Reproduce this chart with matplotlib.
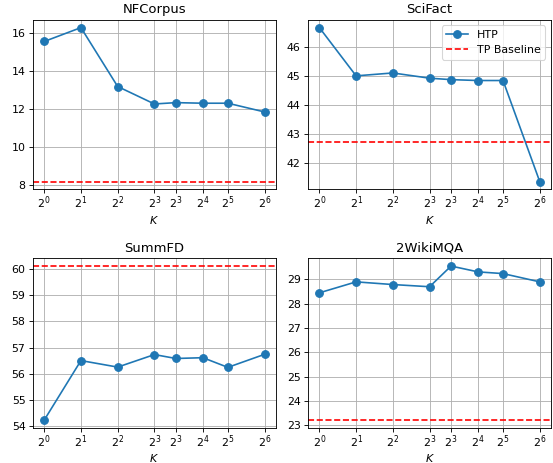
import matplotlib
matplotlib.use("Agg")
import matplotlib.pyplot as plt

k_values = [1, 2, 4, 8, 12, 20, 32, 64]
k_labels = ['$2^{0}$', '$2^{1}$', '$2^{2}$', '$2^{3}$', '$2^{3}$', '$2^{4}$', '$2^{5}$', '$2^{6}$']

titles = ['NFCorpus', 'SciFact', 'SummFD', '2WikiMQA']
nfcorpus = [15.53, 16.26, 13.16, 12.24, 12.31, 12.28, 12.28, 11.82]
scifact = [46.67, 45.01, 45.11, 44.93, 44.88, 44.85, 44.85, 41.37]
summfd = [54.22, 56.50, 56.25, 56.73, 56.58, 56.61, 56.24, 56.74]
wikimqa = [28.44, 28.89, 28.78, 28.69, 29.54, 29.30, 29.23, 28.89]
htp_scores = [nfcorpus, scifact, summfd, wikimqa]
tp_baseline = [8.15, 42.72, 60.12, 23.21]

# 553x463 px at dpi 79
fig, axes = plt.subplots(2, 2, figsize=(7, 463 / 79), dpi=79)

for i, ax in enumerate(axes.flat):
    ax.plot(k_values, htp_scores[i], marker='o', markersize=7, color='tab:blue', label='HTP')
    ax.axhline(tp_baseline[i], color='red', linestyle='--', label='TP Baseline')
    ax.set_xscale('log', base=2)
    ax.set_xticks(k_values)
    ax.set_xticklabels(k_labels)
    ax.minorticks_off()
    ax.tick_params(axis='x', pad=1.5)
    ax.set_xlabel('$K$', labelpad=2)
    ax.set_title(titles[i])
    ax.grid(True)
    if i == 1:
        ax.legend(loc='upper right')

plt.subplots_adjust(left=0.06, right=0.996, top=0.957, bottom=0.076, wspace=0.135, hspace=0.407)
plt.savefig('out.png', dpi=79)
